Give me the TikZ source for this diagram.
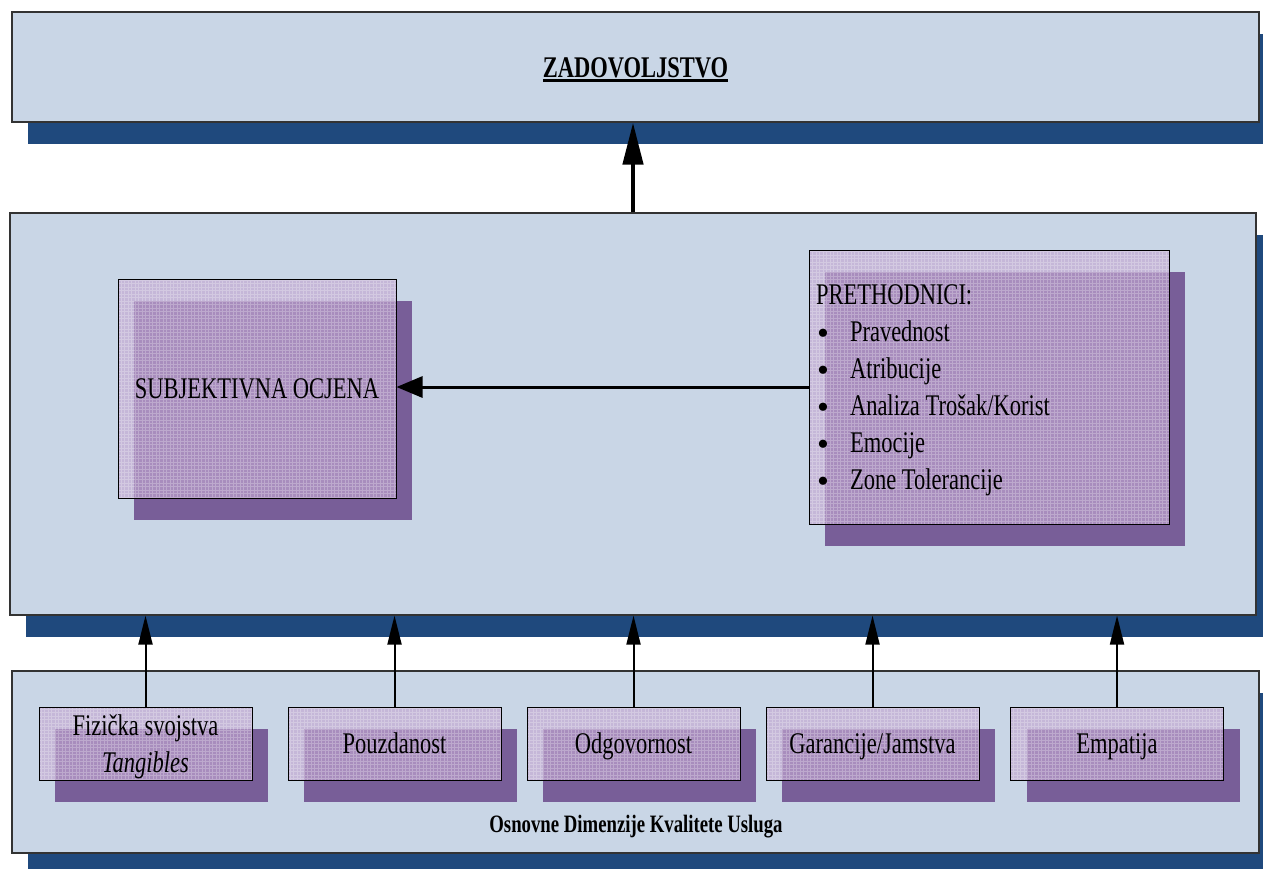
\documentclass[tikz,border=0pt]{standalone}
\usepackage{fontspec}
\setmainfont{Liberation Serif}
\newfontfamily\tnr[FakeStretch=0.75]{Liberation Serif}
\newfontfamily\bulfont{Liberation Serif}
\usetikzlibrary{arrows.meta,calc}
\definecolor{panel}{HTML}{C9D6E6}
\definecolor{navyshadow}{HTML}{1F497D}
\definecolor{plumshadow}{HTML}{785E98}
\definecolor{lavender}{RGB}{195,167,210}
\newcommand\tnrbig{\tnr\fontsize{30}{37}\selectfont}
\newcommand\bulitem[1]{\hbox to 34pt{\hskip1pt\raisebox{-3pt}{\bulfont\fontsize{34}{37}\selectfont\textbullet}\hfil}#1}
\newcommand\myul[1]{\setbox0=\hbox{#1}\rlap{\copy0}\rule[-5pt]{\wd0}{2.8pt}}
\begin{document}
\begin{tikzpicture}[x=1pt,y=-1pt,
  panelbox/.style={draw=black!80, line width=1.2pt, fill=panel, inner sep=0pt},
  navysh/.style={fill=navyshadow, draw=none, inner sep=0pt},
  plumsh/.style={fill=plumshadow, draw=none, inner sep=0pt},
  frontbox/.style={draw=black, line width=1pt, fill=lavender, fill opacity=0.65,
    text opacity=1, draw opacity=1, inner sep=0pt, font=\tnrbig,
    path picture={\draw[white, draw opacity=0.25, line width=0.5pt, step=3.5pt]
      (path picture bounding box.south west) grid (path picture bounding box.north east);}},
  dimbox/.style={frontbox, minimum width=213pt, minimum height=73pt, text height=20.5pt, text depth=0pt},
  dimsh/.style={plumsh, minimum width=213pt, minimum height=73pt},
  smallarrow/.style={line width=2pt, -{Triangle[length=29pt,width=14pt]}}
]
\clip (0,0) rectangle (1263,868);
% top panel
\node[navysh, minimum width=1247pt, minimum height=110pt] (topsh) at (651.5,89) {};
\node[panelbox, minimum width=1247pt, minimum height=110pt, font=\tnrbig\bfseries,
  text height=20pt, text depth=0pt] (top) at (635.5,67) {\myul{ZADOVOLJSTVO}};
% middle panel
\node[navysh, minimum width=1246pt, minimum height=402pt] (midsh) at (649,436) {};
\node[panelbox, minimum width=1246pt, minimum height=402pt] (mid) at (633,414) {};
% bottom panel
\node[navysh, minimum width=1247pt, minimum height=182pt] (botsh) at (651.5,784) {};
\node[panelbox, minimum width=1247pt, minimum height=182pt] (bot) at (635.5,762) {};
% subjektivna ocjena
\node[plumsh, minimum width=278pt, minimum height=219pt] (subjsh) at (273,410.5) {};
\node[frontbox, minimum width=278pt, minimum height=219pt, text height=20.5pt, text depth=0pt]
  (subj) at (257,388.5) {SUBJEKTIVNA OCJENA};
% prethodnici
\node[plumsh, minimum width=360pt, minimum height=274pt] (presh) at (1005,409) {};
\node[frontbox, minimum width=360pt, minimum height=274pt, text height=205pt, text depth=0pt]
  (pre) at (989,387) {\vbox{\halign{\hbox to 346pt{#\hfil}\cr
    PRETHODNICI:\cr
    \bulitem{Pravednost}\cr
    \bulitem{Atribucije}\cr
    \bulitem{Analiza Trošak/Korist}\cr
    \bulitem{Emocije}\cr
    \bulitem{Zone Tolerancije}\cr}}};
% dimension boxes
\node[dimsh] (b1sh) at (161.5,765.5) {};
\node[dimsh] (b2sh) at (410.5,765.5) {};
\node[dimsh] (b3sh) at (649.5,765.5) {};
\node[dimsh] (b4sh) at (888.5,765.5) {};
\node[dimsh] (b5sh) at (1133,765.5) {};
\node[dimbox, text height=57pt] (b1) at (145.5,743.5)
  {\vbox{\halign{\hfil#\hfil\cr Fizička svojstva\cr\itshape Tangibles\cr}}};
\node[dimbox] (b2) at (394.5,743.5) {Pouzdanost};
\node[dimbox] (b3) at (633.5,743.5) {Odgovornost};
\node[dimbox] (b4) at (872.5,743.5) {Garancije/Jamstva};
\node[dimbox] (b5) at (1117,743.5) {Empatija};
\node[font=\tnr\fontsize{25}{30}\selectfont\bfseries, anchor=base, inner sep=0pt]
  (botlabel) at (636,832) {Osnovne Dimenzije Kvalitete Usluga};
% connectors
\draw[line width=4.5pt, -{Triangle[length=42pt,width=20pt]}] (mid.north) -- (mid.north |- top.south);
\draw[line width=3pt, -{Triangle[length=26pt,width=21pt]}] (pre.west) -- (pre.west -| subj.east);
\foreach \b in {b1,b2,b3,b4,b5}
  \draw[smallarrow] (\b.north) -- (\b.north |- mid.south);
\end{tikzpicture}
\end{document}
